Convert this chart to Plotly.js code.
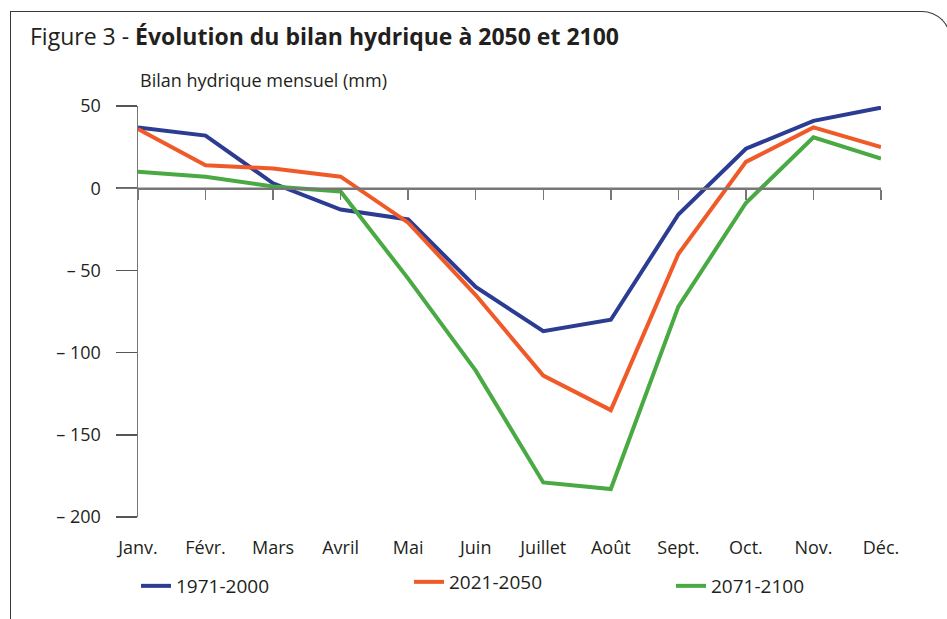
<!DOCTYPE html>
<html>
<head>
<meta charset="utf-8">
<script src="https://cdn.plot.ly/plotly-3.0.1.min.js"></script>
<style>
html, body { margin:0; padding:0; width:947px; height:619px; overflow:hidden; background:#fff; }
#chart { position:absolute; left:0; top:0; width:947px; height:619px; }
#frame { position:absolute; left:10px; top:11px; width:941px; height:700px; box-sizing:border-box;
  border-left:1.3px solid #3a3a3a; border-top:1.3px solid #3a3a3a; border-right:1.3px solid #3a3a3a;
  border-top-right-radius:29px; pointer-events:none; }
</style>
</head>
<body>
<div id="chart"></div>
<div id="frame"></div>
<script>
const months = ["Janv.", "Févr.", "Mars", "Avril", "Mai", "Juin", "Juillet", "Août", "Sept.", "Oct.", "Nov.", "Déc."];
const seriesNames = ["1971-2000", "2021-2050", "2071-2100"];
const v1971_2000 = [37, 32, 3, -13, -19, -60, -87, -80, -16, 24, 41, 49];
const v2021_2050 = [36, 14, 12, 7, -21, -65, -114, -135, -40, 16, 37, 25];
const v2071_2100 = [10, 7, 1, -2, -55, -111, -179, -183, -72, -9, 31, 18];
const yTickVals = [50, 0, -50, -100, -150, -200];
const yTickText = ["50", "0", "– 50", "– 100", "– 150", "– 200"];
const colors = ["#2b3c92", "#f05a28", "#49a942"];

const idx = months.map((m, i) => i);
const allSeries = [v1971_2000, v2021_2050, v2071_2100];
const legendIds = ["legend", "legend2", "legend3"];
const traces = allSeries.map((vals, k) => ({
  type: "scatter", mode: "lines", name: seriesNames[k], legend: legendIds[k],
  x: idx, y: vals, xaxis: "x", yaxis: "y",
  line: { color: colors[k], width: 4 }, hoverinfo: "skip"
}));

const font = "'Open Sans', Roboto, sans-serif";
const txt = "#231f20";
const plotW = 743, plotH = 411;
function legendAt(px, dy) {
  return { orientation: "h", x: (px - 138) / plotW, xanchor: "left", y: -dy / plotH, yanchor: "top",
    font: { size: 19, family: font, color: txt }, bgcolor: "rgba(0,0,0,0)" };
}
const layout = {
  width: 947, height: 619,
  margin: { l: 138, r: 66, t: 106, b: 102, autoexpand: false },
  paper_bgcolor: "rgba(0,0,0,0)", plot_bgcolor: "rgba(0,0,0,0)",
  font: { family: font, color: txt, size: 18 },
  title: { text: "Figure 3 - <b>Évolution du bilan hydrique à 2050 et 2100</b>",
    font: { family: font, size: 23, color: txt },
    x: 30/947, xref: "container", xanchor: "left", y: 1 - 37/619, yref: "container", yanchor: "middle" },
  showlegend: true,
  legend: legendAt(136, 50),
  legend2: legendAt(409, 46),
  legend3: legendAt(671, 50),
  xaxis: { type: "linear", range: [0, 11], tickvals: idx, ticktext: months,
    showline: false, showgrid: false, zeroline: false,
    ticks: "outside", ticklen: 14, tickcolor: "rgba(0,0,0,0)",
    tickfont: { size: 18, family: font, color: txt } },
  xaxis2: { type: "linear", range: [0, 11], overlaying: "x", anchor: "free", position: 0.8, side: "bottom",
    tickvals: idx, showticklabels: false, showline: true, linecolor: "#777", linewidth: 1.5,
    ticks: "outside", ticklen: 10, tickwidth: 1.5, tickcolor: "#777", showgrid: false, zeroline: false },
  yaxis: { range: [-200, 50], tickvals: yTickVals, ticktext: yTickText,
    showline: true, linecolor: "#777", linewidth: 1.5, showgrid: false, zeroline: false,
    ticks: "outside", ticklen: 21, tickwidth: 1.5, tickcolor: "#555", ticklabelstandoff: 11,
    tickfont: { size: 18, family: font, color: txt } },
  annotations: [{ text: "Bilan hydrique mensuel (mm)", xref: "paper", yref: "paper",
    x: 0, y: 1, xanchor: "left", yanchor: "middle", yshift: 26, showarrow: false,
    font: { size: 18, family: font, color: txt } }],
  shapes: [{ type: "line", xref: "paper", yref: "y", x0: -21/743, x1: 1, y0: 0, y1: 0,
    line: { color: "#777", width: 1.5 } }]
};
// transparent trace on xaxis2 so the overlay axis (zero line ticks) is drawn
traces.push({ type: "scatter", mode: "lines", x: [0, 11], y: [0, 0], xaxis: "x2", yaxis: "y",
  line: { color: "rgba(0,0,0,0)", width: 0 }, showlegend: false, hoverinfo: "skip" });

Plotly.newPlot("chart", traces, layout, { displayModeBar: false, staticPlot: true });
</script>
</body>
</html>
